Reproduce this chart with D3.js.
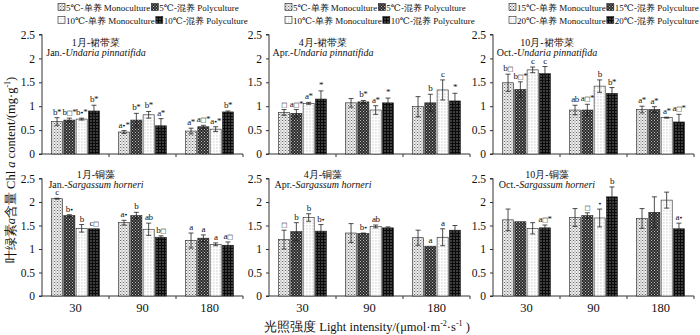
<!DOCTYPE html>
<html>
<head>
<meta charset="utf-8">
<script src="https://cdn.jsdelivr.net/npm/d3@7"></script>
<style>
body { margin: 0; background: #fff; }
svg text { font-family: "Liberation Serif", "DejaVu Serif", serif; fill: #111; }
.axis path, .axis line { stroke: #333; }
</style>
</head>
<body>
<div id="paper"></div>
<script>

// light levels and treatments.

const lightLevels = ["30", "90", "180"]
const treatments = ["mono1", "poly1", "mono2", "poly2"]
const yTicks = [0, 0.5, 1, 1.5, 2, 2.5]

const legendJanApr = ["5℃-单养 Monoculture", "5℃-混养 Polyculture", "10℃-单养 Monoculture", "10℃-混养 Polyculture"]
const legendOct = ["15℃-单养 Monoculture", "15℃-混养 Polyculture", "20℃-单养 Monoculture", "20℃-混养 Polyculture"]

// chl a, one row per light level, one column per treatment.

const undJanMean = [[0.68, 0.71, 0.73, 0.90], [0.46, 0.71, 0.82, 0.59], [0.48, 0.57, 0.52, 0.88]]
const undJanErr  = [[0.08, 0.04, 0.02, 0.12], [0.03, 0.14, 0.07, 0.15], [0.06, 0.03, 0.05, 0.02]]
const undJanSig  = [["b*", "b□*", "b•*", "b*"], ["a•*", "b*", "b*", "a*"], ["a*", "a□*", "a•*", "b*"]]

const undAprMean = [[0.87, 0.85, 1.06, 1.15], [1.07, 1.09, 0.92, 1.07], [0.99, 1.07, 1.34, 1.11]]
const undAprErr  = [[0.06, 0.08, 0.02, 0.17], [0.09, 0.03, 0.09, 0.10], [0.21, 0.18, 0.21, 0.16]]
const undAprSig  = [["□", "a□*", "a*", "*"], ["", "b*", "a*", "*"], ["", "b", "c", "*"]]

const undOctMean = [[1.49, 1.35, 1.76, 1.68], [0.92, 0.92, 1.42, 1.27], [0.93, 0.93, 0.76, 0.67]]
const undOctErr  = [[0.18, 0.16, 0.06, 0.15], [0.10, 0.12, 0.13, 0.12], [0.07, 0.06, 0.01, 0.16]]
const undOctSig  = [["b□", "b□*", "c", "c"], ["ab", "a□*", "b", "b*"], ["a*", "a*", "a*", "a□*"]]

const sarJanMean = [[2.07, 1.71, 1.44, 1.43], [1.56, 1.71, 1.42, 1.25], [1.18, 1.23, 1.10, 1.08]]
const sarJanErr  = [[0.01, 0.02, 0.08, 0.00], [0.05, 0.07, 0.13, 0.03], [0.16, 0.07, 0.03, 0.07]]
const sarJanSig  = [["c", "b•", "b", "c□"], ["a•", "b", "ab", "b□"], ["a", "a", "a", "a□"]]

const sarAprMean = [[1.20, 1.37, 1.67, 1.38], [1.34, 1.33, 1.48, 1.45], [1.24, 1.06, 1.25, 1.40]]
const sarAprErr  = [[0.20, 0.19, 0.08, 0.14], [0.20, 0.01, 0.03, 0.02], [0.16, 0.00, 0.18, 0.10]]
const sarAprSig  = [["□", "b", "b", "b•"], ["", "b•", "ab", ""], ["", "a", "a", ""]]

const sarOctMean = [[1.62, 1.58, 1.44, 1.45], [1.67, 1.71, 1.66, 2.11], [1.65, 1.78, 2.04, 1.43]]
const sarOctErr  = [[0.23, 0.00, 0.12, 0.06], [0.19, 0.06, 0.19, 0.21], [0.21, 0.33, 0.17, 0.12]]
const sarOctSig  = [["", "", "", "a□*"], ["", "□", "•", "b"], ["", "", "", "a•"]]

const serif = '"Liberation Serif", "DejaVu Serif", serif'

// svg canvas.

const svg = d3.select("#paper")
    .append("svg")
    .attr("width", 700)
    .attr("height", 335)
    .attr("font-family", serif)

// bar fills.

const defs = svg.append("defs")

function pattern(id, size, bg) {
    let p = defs.append("pattern")
        .attr("id", id)
        .attr("patternUnits", "userSpaceOnUse")
        .attr("width", size)
        .attr("height", size)
    p.append("rect").attr("width", size).attr("height", size).attr("fill", bg)
    return p
}

let pa = pattern("fill_mono1", 3, "#f4f4f4")
pa.append("rect").attr("x", 0).attr("y", 0).attr("width", 1).attr("height", 1).attr("fill", "#6a6a6a")
pa.append("rect").attr("x", 1.5).attr("y", 1.5).attr("width", 1).attr("height", 1).attr("fill", "#6a6a6a")
pa.append("rect").attr("x", 1.5).attr("y", 0).attr("width", 0.8).attr("height", 0.8).attr("fill", "#b0b0b0")

let pb = pattern("fill_poly1", 3, "#2a2a2a")
pb.append("rect").attr("x", 0).attr("y", 0).attr("width", 1).attr("height", 1).attr("fill", "#bdbdbd")
pb.append("rect").attr("x", 1.5).attr("y", 1.5).attr("width", 1).attr("height", 1).attr("fill", "#bdbdbd")

let pc = pattern("fill_mono2", 3, "#ffffff")
pc.append("rect").attr("x", 0.5).attr("y", 0.5).attr("width", 0.9).attr("height", 0.9).attr("fill", "#9a9a9a")

let pd = pattern("fill_poly2", 3, "#0a0a0a")
pd.append("rect").attr("x", 0.5).attr("y", 0.5).attr("width", 1).attr("height", 1).attr("fill", "#d8d8d8")

const fills = d => `url(#fill_${d})`

// panel layout.

const panelWidth = 201
const top_row = { y2: 34.5, y0: 154, zhY: 46, enY: 56 }
const bottom_row = { y2: 178.5, y0: 296, zhY: 178, enY: 188 }

const panels = [
    { x: 42,  row: top_row, mean: undJanMean, err: undJanErr, sig: undJanSig, zh: "1月-裙带菜", en: "Jan.-", sp: "Undaria pinnatifida", legend: legendJanApr },
    { x: 269, row: top_row, mean: undAprMean, err: undAprErr, sig: undAprSig, zh: "4月-裙带菜", en: "Apr.-", sp: "Undaria pinnatifida", legend: legendJanApr },
    { x: 493, row: top_row, mean: undOctMean, err: undOctErr, sig: undOctSig, zh: "10月-裙带菜", en: "Oct.-", sp: "Undaria pinnatifida", legend: legendOct },
    { x: 42,  row: bottom_row, mean: sarJanMean, err: sarJanErr, sig: sarJanSig, zh: "1月-铜藻", en: "Jan.-", sp: "Sargassum horneri" },
    { x: 269, row: bottom_row, mean: sarAprMean, err: sarAprErr, sig: sarAprSig, zh: "4月-铜藻", en: "Apr.-", sp: "Sargassum horneri" },
    { x: 493, row: bottom_row, mean: sarOctMean, err: sarOctErr, sig: sarOctSig, zh: "10月-铜藻", en: "Oct.-", sp: "Sargassum horneri" },
]

// draw one panel.

function draw_panel(p, showCategories) {

    let g = svg.append("g")

    let x = d3.scaleBand().domain(lightLevels).range([p.x, p.x + panelWidth])
    let inner = d3.scaleBand().domain(treatments).range([9.5, 57.5]).paddingInner(0.1)
    let y = d3.scaleLinear().domain([0, 2.5]).range([p.row.y0, p.row.y2])

    // y axis.

    let yAxis = d3.axisLeft(y).tickValues(yTicks).tickSize(3).tickPadding(4).tickFormat(d3.format("~g"))
    g.append("g")
        .attr("class", "axis")
        .attr("transform", `translate(${p.x},0)`)
        .call(yAxis)
        .attr("font-family", serif)
        .attr("font-size", 11.5)
        .call(a => a.select(".domain").attr("d", `M-3,${p.row.y0}H0V${p.row.y2}H-3`))

    // x axis with ticks between light levels.

    let xg = g.append("g").attr("class", "axis")
    xg.append("line")
        .attr("x1", p.x).attr("x2", p.x + panelWidth)
        .attr("y1", p.row.y0).attr("y2", p.row.y0)
        .attr("stroke", "#333")
    xg.selectAll(".xtick")
        .data(lightLevels)
        .join("line")
        .attr("x1", d => x(d) + x.bandwidth())
        .attr("x2", d => x(d) + x.bandwidth())
        .attr("y1", p.row.y0).attr("y2", p.row.y0 + 3)
        .attr("stroke", "#333")

    if (showCategories) {
        xg.selectAll(".xlab")
            .data(lightLevels)
            .join("text")
            .attr("x", d => x(d) + x.bandwidth() / 2)
            .attr("y", p.row.y0 + 16)
            .attr("text-anchor", "middle")
            .style("font-size", "12.5px")
            .text(d => d)
    }

    // bars, error bars and letters.

    let cells = []
    lightLevels.forEach((lvl, i) => {
        treatments.forEach((t, j) => {
            cells.push({ lvl, t, v: p.mean[i][j], e: p.err[i][j], s: p.sig[i][j] })
        })
    })

    let bx = d => x(d.lvl) + inner(d.t)
    let bw = inner.bandwidth()

    g.selectAll(".bar")
        .data(cells)
        .join("rect")
        .attr("x", bx)
        .attr("y", d => y(d.v))
        .attr("width", bw)
        .attr("height", d => y(0) - y(d.v))
        .attr("fill", d => fills(d.t))
        .attr("stroke", "#222")
        .attr("stroke-width", 0.6)

    let eb = g.selectAll(".err")
        .data(cells.filter(d => d.e > 0))
        .join("g")
        .attr("stroke", "#222")
        .attr("stroke-width", 0.8)

    eb.append("line")
        .attr("x1", d => bx(d) + bw / 2).attr("x2", d => bx(d) + bw / 2)
        .attr("y1", d => y(d.v - d.e)).attr("y2", d => y(d.v + d.e))
    eb.append("line")
        .attr("x1", d => bx(d) + bw / 2 - 2.5).attr("x2", d => bx(d) + bw / 2 + 2.5)
        .attr("y1", d => y(d.v + d.e)).attr("y2", d => y(d.v + d.e))
    eb.append("line")
        .attr("x1", d => bx(d) + bw / 2 - 2.5).attr("x2", d => bx(d) + bw / 2 + 2.5)
        .attr("y1", d => y(d.v - d.e)).attr("y2", d => y(d.v - d.e))

    // significance letters; the open and filled markers are drawn smaller.

    let sig = g.selectAll(".sig")
        .data(cells)
        .join("text")
        .attr("x", d => bx(d) + bw / 2)
        .attr("y", d => y(d.v + d.e) - 3)
        .attr("text-anchor", "middle")
        .style("font-size", "9px")
        .style("letter-spacing", "-0.5px")
    sig.each(function(d) {
        let t = d3.select(this)
        for (let ch of d.s) {
            let span = t.append("tspan").text(ch)
            if (ch === "□" || ch === "•") span.style("font-size", "6.5px").style("font-family", "DejaVu Sans")
        }
    })

    // panel title.

    g.append("text")
        .attr("x", p.x + 54)
        .attr("y", p.row.zhY)
        .attr("text-anchor", "middle")
        .style("font-size", "10px")
        .text(p.zh)

    let en = g.append("text")
        .attr("x", p.x + 54)
        .attr("y", p.row.enY)
        .attr("text-anchor", "middle")
        .style("font-size", "10px")
    en.append("tspan").text(p.en)
    en.append("tspan").style("font-style", "italic").text(p.sp)

    // legend in two rows above the panel.

    if (p.legend) {
        [[0, 1], [2, 3]].forEach((pair, r) => {
            let cx = p.x + 16
            let cy = 7 + r * 13
            pair.forEach(k => {
                g.append("rect")
                    .attr("x", cx).attr("y", cy - 3.5)
                    .attr("width", 7).attr("height", 7)
                    .attr("fill", fills(treatments[k]))
                    .attr("stroke", "#222")
                    .attr("stroke-width", 0.6)
                let t = g.append("text")
                    .attr("x", cx + 8)
                    .attr("y", cy + 3.5)
                    .style("font-size", "9px")
                    .text(p.legend[k])
                cx = cx + 8 + t.node().getComputedTextLength() + 1
            })
        })
    }
}

panels.forEach((p, i) => draw_panel(p, i >= 3))

// shared axis titles.

let yt = svg.append("text")
    .attr("transform", "translate(15,170) rotate(-90)")
    .attr("text-anchor", "middle")
    .style("font-size", "12.5px")
yt.append("tspan").text("叶绿素")
yt.append("tspan").style("font-style", "italic").text("a")
yt.append("tspan").text("含量 Chl ")
yt.append("tspan").style("font-style", "italic").text("a")
yt.append("tspan").text(" content/(mg·g")
yt.append("tspan").attr("dy", -5).style("font-size", "8px").text("-1")
yt.append("tspan").attr("dy", 5).text(")")

let xt = svg.append("text")
    .attr("x", 367)
    .attr("y", 331)
    .attr("text-anchor", "middle")
    .style("font-size", "12.5px")
xt.append("tspan").text("光照强度 Light intensity/(μmol·m")
xt.append("tspan").attr("dy", -5).style("font-size", "8px").text("-2")
xt.append("tspan").attr("dy", 5).text("·s")
xt.append("tspan").attr("dy", -5).style("font-size", "8px").text("-1")
xt.append("tspan").attr("dy", 5).text(" )")

</script>
</body>
</html>
